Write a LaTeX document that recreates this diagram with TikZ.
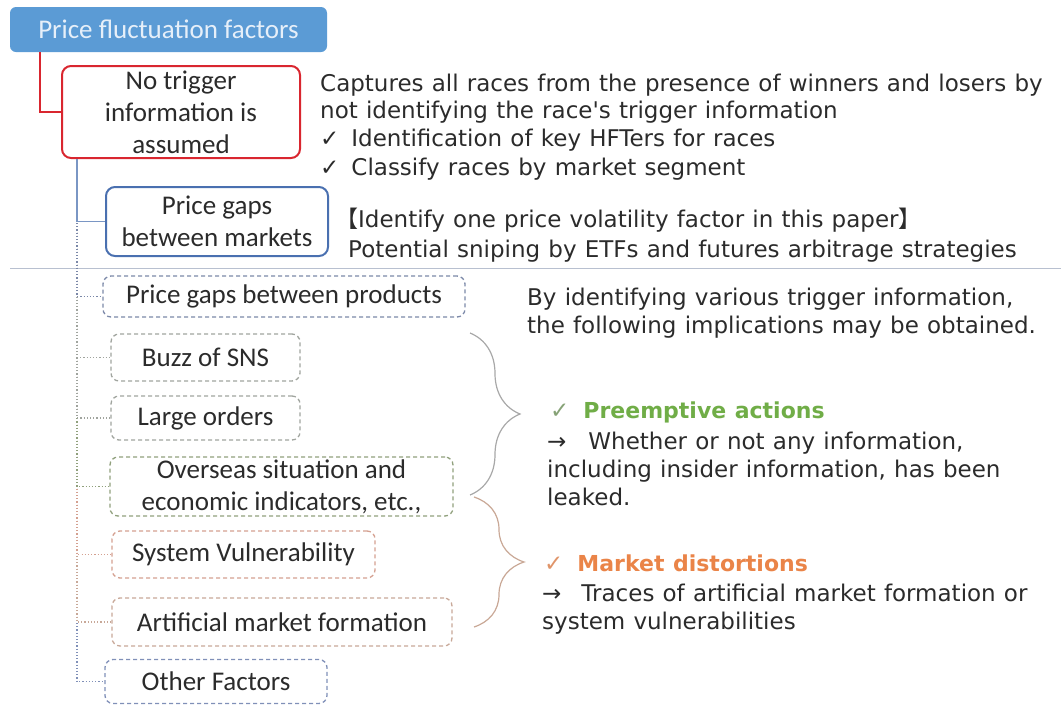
\documentclass[tikz,border=0pt]{standalone}
\usepackage{fontspec}
\setmainfont{Carlito}
\newfontfamily\vfont{DejaVu Sans}[WordSpace=1.12]
\newfontfamily\cjk{Noto Sans CJK JP}
\usetikzlibrary{decorations.pathreplacing}

\definecolor{topfill}{HTML}{5B9BD5}
\definecolor{toptext}{HTML}{E6EFF9}
\definecolor{redline}{HTML}{D9262F}
\definecolor{blueline}{HTML}{4A70B0}
\definecolor{bluelink}{HTML}{7A96C4}
\definecolor{txt}{HTML}{2B2B2B}
\definecolor{sep}{HTML}{B8C0D0}
\definecolor{cprod}{HTML}{7B88A8}
\definecolor{cgray}{HTML}{A0A49E}
\definecolor{cgreen}{HTML}{90A07C}
\definecolor{csys}{HTML}{D4A090}
\definecolor{cart}{HTML}{C8A898}
\definecolor{cother}{HTML}{8090B8}
\definecolor{pregreen}{HTML}{70AD47}
\definecolor{mkorange}{HTML}{EA8448}
\definecolor{chkgreen}{HTML}{86A276}
\definecolor{chkorange}{HTML}{E0956A}
\definecolor{bracea}{HTML}{A8A8A8}
\definecolor{braceb}{HTML}{C9A896}

\tikzset{
  label/.style={font=\fontsize{27}{32}\selectfont, text=txt, align=center, inner sep=0pt},
  solidbox/.style={label, draw, rounded corners=9pt, line width=2pt},
  dashbox/.style={label, draw, rounded corners=8pt, line width=1.3pt, dash pattern=on 4pt off 3pt},
  body/.style={font=\vfont\fontsize{23}{28}\selectfont, text=txt, anchor=base west, inner sep=0pt},
  twig/.style={line width=1.2pt, dotted},
  bracestyle/.style={line width=1.2pt, decorate, decoration={brace, amplitude=50pt, aspect=0.5}}
}

\begin{document}
\begin{tikzpicture}[x=1pt, y=-1pt]
\useasboundingbox (0,0) rectangle (1061,705);

% separator between the chosen factor and the others
\draw[sep, line width=1pt] (10,268) -- (1061,268);

% hierarchy boxes
\node[label, fill=topfill, text=toptext, rounded corners=6pt, minimum width=317pt, minimum height=45pt] (top) at (168.5,29.5) {Price fluctuation factors};
\node[solidbox, draw=redline, minimum width=238pt, minimum height=92pt] (notrig) at (181,112) {No trigger\\information is\\assumed};
\node[solidbox, draw=blueline, minimum width=222pt, minimum height=69pt] (markets) at (217,221.5) {Price gaps\\between markets};

\node[dashbox, draw=cprod, minimum width=362pt, minimum height=41pt] (products) at (284,296.5) {Price gaps between products};
\node[dashbox, draw=cgray, minimum width=189pt, minimum height=47pt] (sns) at (205.5,357.5) {Buzz of SNS};
\node[dashbox, draw=cgray, minimum width=189pt, minimum height=44pt] (large) at (205.5,418) {Large orders};
\node[dashbox, draw=cgreen, minimum width=343pt, minimum height=59pt] (overseas) at (281.5,486.5) {Overseas situation and\\economic indicators, etc.,};
\node[dashbox, draw=csys, minimum width=263pt, minimum height=47pt] (system) at (243.5,554.5) {System Vulnerability};
\node[dashbox, draw=cart, minimum width=340pt, minimum height=48pt] (artificial) at (282,622) {Artificial market formation};
\node[dashbox, draw=cother, minimum width=222pt, minimum height=44pt] (other) at (216,681.5) {Other Factors};

% connectors
\coordinate (trunk) at ([xshift=16pt]notrig.south west);
\draw[twig, cother] (trunk) |- (other.west);
\draw[twig, cart] (trunk) |- (artificial.west);
\draw[twig, csys] (trunk) |- (system.west);
\draw[twig, cgreen] (trunk) |- (overseas.west);
\draw[twig, cgray] (trunk) |- (large.west);
\draw[twig, cgray] (trunk) |- (sns.west);
\draw[twig, cprod] (trunk) |- (products.west);
\draw[redline, line width=1.6pt] ([xshift=30pt]top.south west) |- (notrig.west);
\draw[bluelink, line width=1.6pt] (trunk) |- (markets.west);

% notes on the assumed-trigger branch
\node[body] (n1) at (320,91) {Captures all races from the presence of winners and losers by};
\node[body] (n2) at (320,118) {not identifying the race's trigger information};
\node[body] (n3) at (320,146) {✓\hspace{12pt}Identification of key HFTers for races};
\node[body] (n4) at (320,175) {✓\hspace{12pt}Classify races by market segment};
\node[body] (p1) at (335,227) {{\cjk【}Identify one price volatility factor in this paper{\cjk】}};
\node[body] (p2) at (348,257) {Potential sniping by ETFs and futures arbitrage strategies};

% implications
\node[body] (b1) at (527,305) {By identifying various trigger information,};
\node[body] (b2) at (527,333) {the following implications may be obtained.};

\draw[bracea, bracestyle] (470,333) -- (470,495);
\draw[braceb, bracestyle] (474,497) -- (474,627);

\node[body] (e1) at (550,418) {{\color{chkgreen}✓}\hspace{14pt}{\fontsize{22}{28}\selectfont\bfseries\color{pregreen}Preemptive actions}};
\node[body] (e2) at (547,449) {→\hspace{22pt}Whether or not any information,};
\node[body] (e3) at (547,477) {including insider information, has been};
\node[body] (e4) at (547,505) {leaked.};
\node[body] (m1) at (544,571) {{\color{chkorange}✓}\hspace{14pt}{\fontsize{22}{28}\selectfont\bfseries\color{mkorange}Market distortions}};
\node[body] (m2) at (542,601) {→\hspace{20pt}Traces of artificial market formation or};
\node[body] (m3) at (542,629) {system vulnerabilities};
\end{tikzpicture}
\end{document}
